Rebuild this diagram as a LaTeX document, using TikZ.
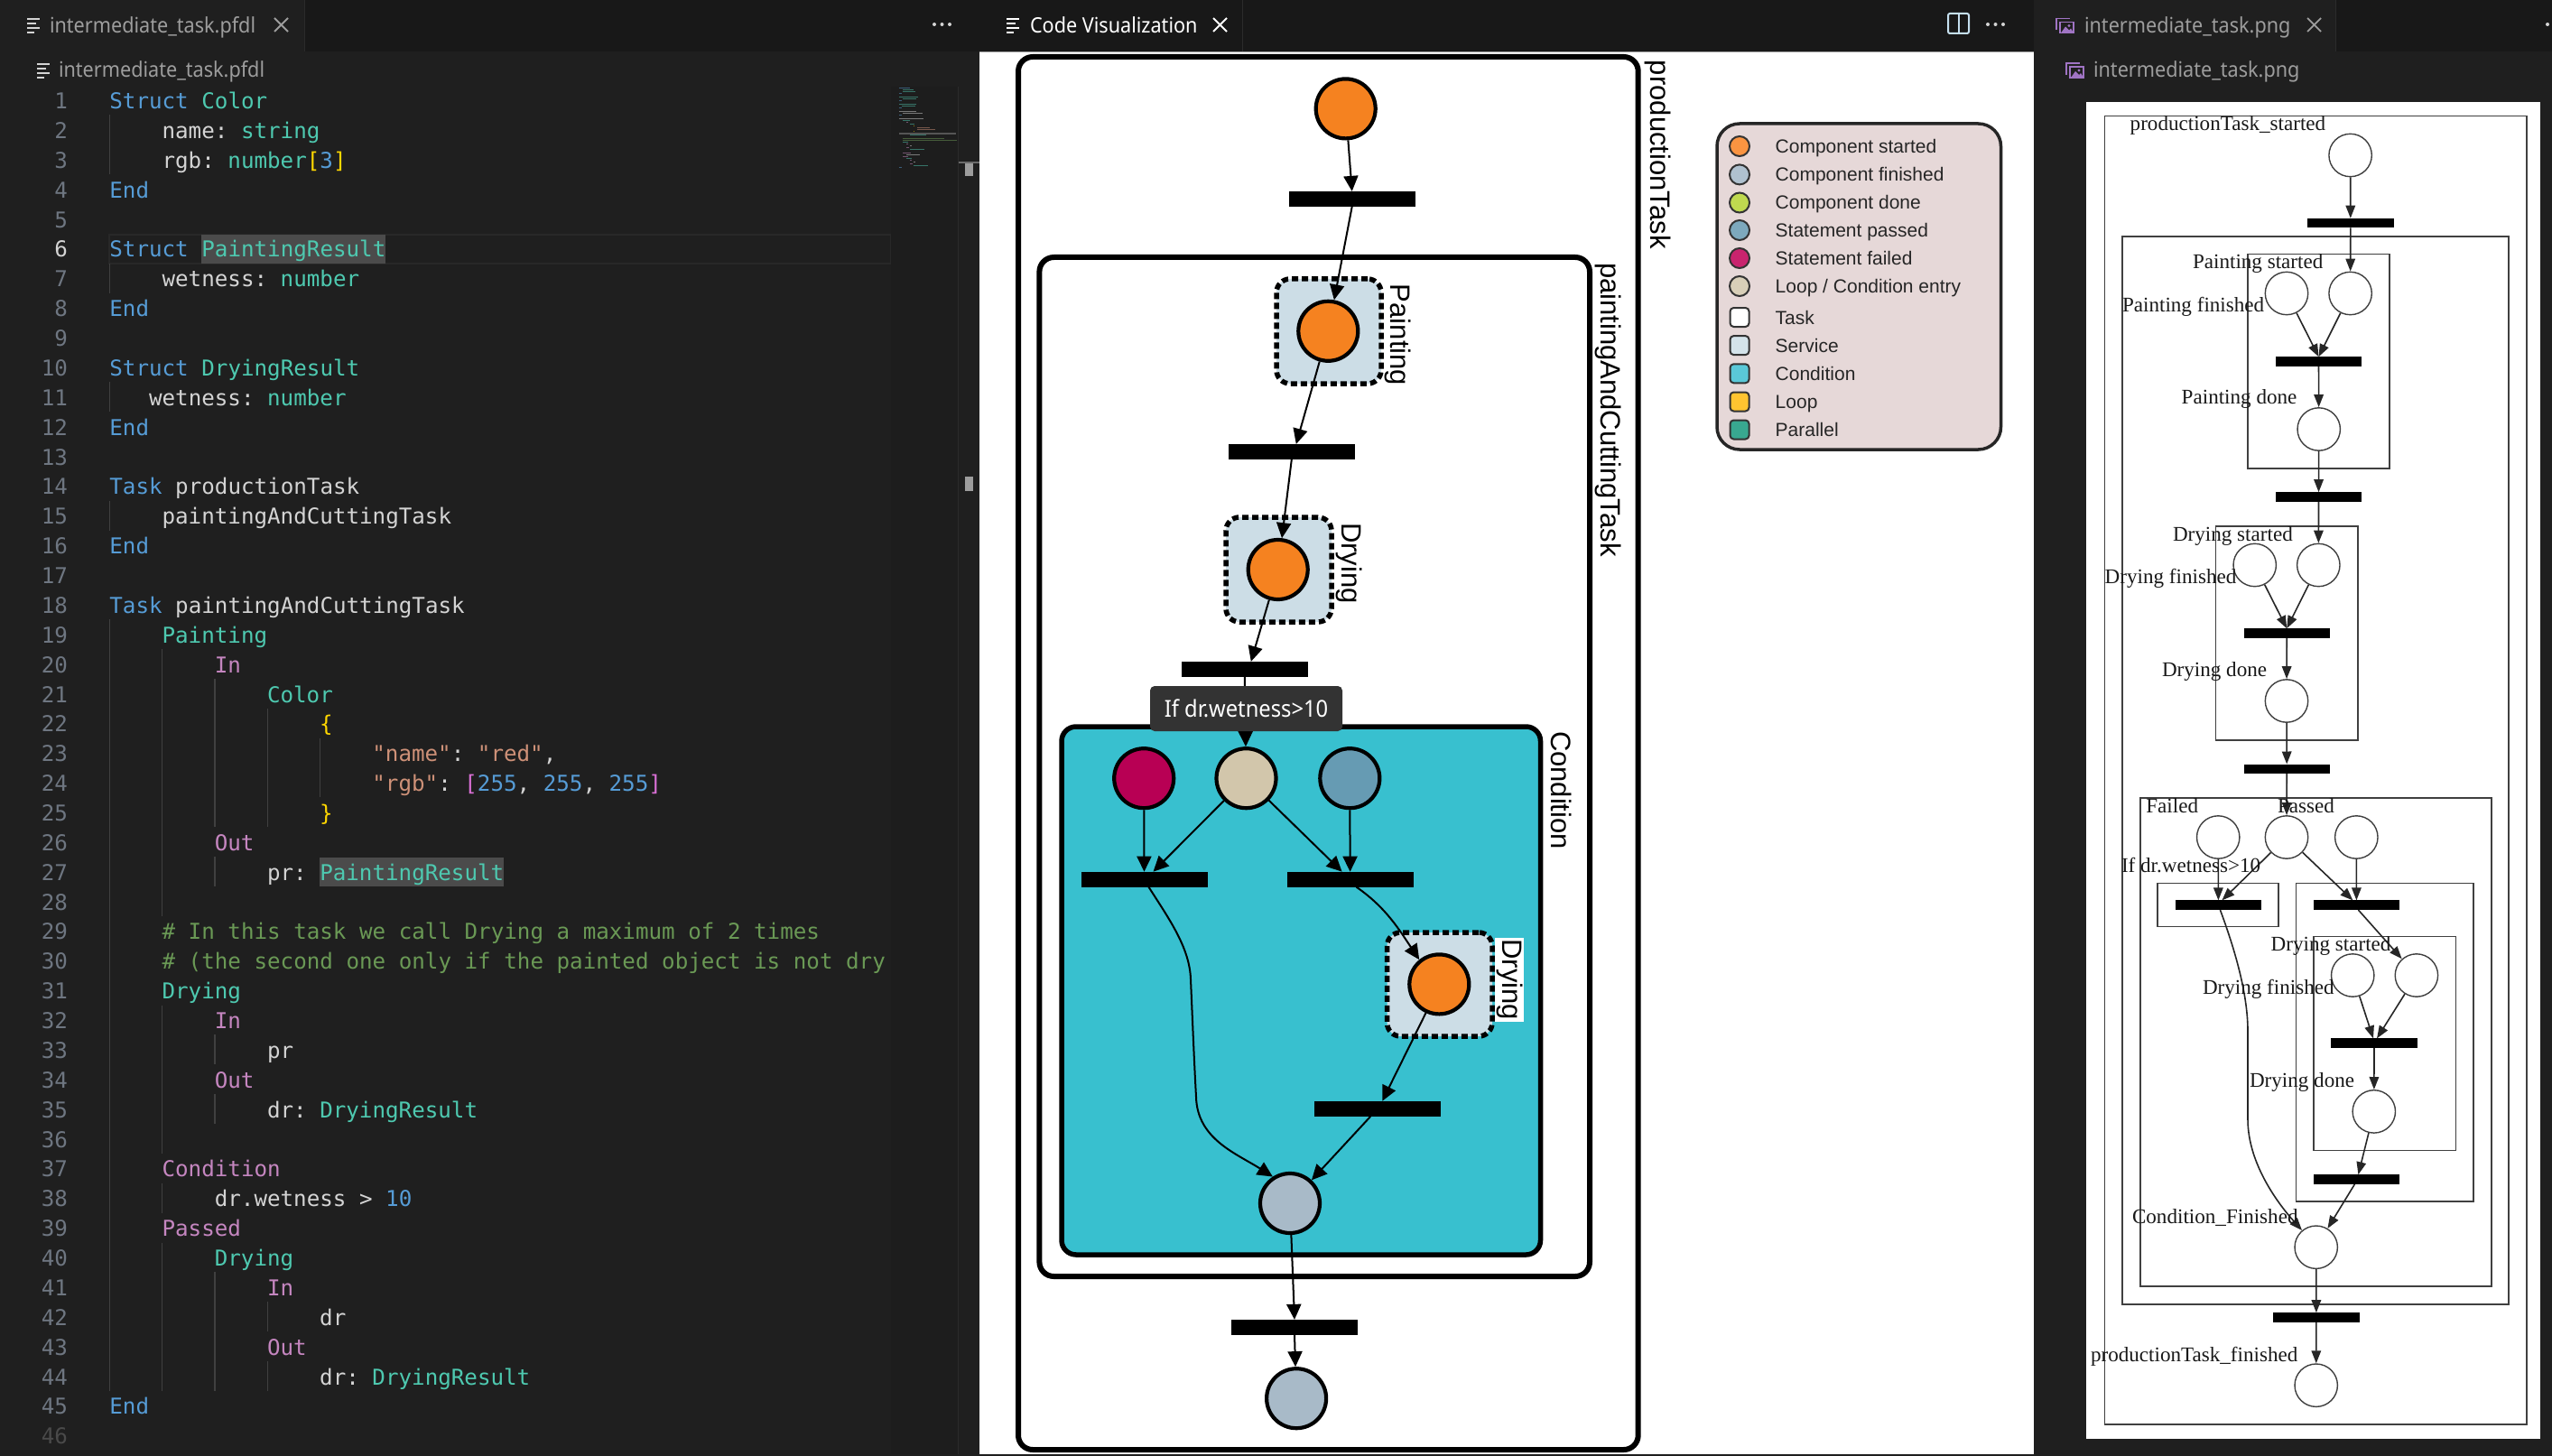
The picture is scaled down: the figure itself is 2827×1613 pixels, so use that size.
\documentclass[tikz,border=0pt]{standalone}
\usepackage{fontspec}
\setmainfont{Liberation Sans}
\setmonofont{DejaVu Sans Mono}
\newfontfamily\uifont[FakeStretch=0.92]{Noto Sans}
\newfontfamily\gvfont{Liberation Serif}
\usetikzlibrary{arrows.meta,calc}
\definecolor{tabbar}{HTML}{181818}
\definecolor{editor}{HTML}{1F1F1F}
\definecolor{uigray}{HTML}{9D9D9D}
\definecolor{codefg}{HTML}{D4D4D4}
\definecolor{lnum}{HTML}{6E7681}
\definecolor{dimnum}{HTML}{4A4A4A}
\definecolor{linehl}{HTML}{282828}
\definecolor{scrollmark}{HTML}{6A6A6A}
\definecolor{minibg}{HTML}{1D1D1D}
\definecolor{minisep}{HTML}{2B2B2B}
\definecolor{minihl}{HTML}{555555}
\definecolor{kwblue}{HTML}{569CD6}
\definecolor{tyteal}{HTML}{4EC9B0}
\definecolor{purp}{HTML}{C586C0}
\definecolor{strc}{HTML}{CE9178}
\definecolor{comc}{HTML}{6A9955}
\definecolor{gold}{HTML}{FFD700}
\definecolor{orch}{HTML}{DA70D6}
\definecolor{wordhl}{HTML}{4B4B4B}
\definecolor{guide}{HTML}{404040}
\definecolor{condfill}{HTML}{38C0CF}
\definecolor{servfill}{HTML}{CCDDE6}
\definecolor{startc}{HTML}{F58220}
\definecolor{finc}{HTML}{A8BAC8}
\definecolor{failc}{HTML}{B80054}
\definecolor{passc}{HTML}{669BB3}
\definecolor{entryc}{HTML}{D2C6AB}
\definecolor{legbg}{HTML}{E6D8D8}
\definecolor{lg1}{HTML}{FA9441}
\definecolor{lg2}{HTML}{AFC1CF}
\definecolor{lg3}{HTML}{BFD94F}
\definecolor{lg4}{HTML}{7DA9BD}
\definecolor{lg5}{HTML}{C9246E}
\definecolor{lg6}{HTML}{D8CFB8}
\definecolor{lg7}{HTML}{FFFFFF}
\definecolor{lg8}{HTML}{D4E3EA}
\definecolor{lg9}{HTML}{5AC8D8}
\definecolor{lg10}{HTML}{FFC430}
\definecolor{lg11}{HTML}{38A890}
\definecolor{imgcol}{HTML}{A074C4}
\definecolor{splitcol}{HTML}{C5DFEF}
\newcommand{\ckw}[1]{\textcolor{kwblue}{#1}}
\newcommand{\cty}[1]{\textcolor{tyteal}{#1}}
\newcommand{\cpu}[1]{\textcolor{purp}{#1}}
\newcommand{\cstr}[1]{\textcolor{strc}{#1}}
\newcommand{\ccm}[1]{\textcolor{comc}{#1}}
\newcommand{\cgd}[1]{\textcolor{gold}{#1}}
\newcommand{\corc}[1]{\textcolor{orch}{#1}}
% code line: line number, column, content
\newcommand{\codeln}[3]{\node[codetext] (code#1) at ({121.4+#2*14.55},{120.6+(#1-1)*32.87}) {#3};}
\newcommand{\numln}[1]{\node[numtext] (num#1) at (75,{120.6+(#1-1)*32.87}) {#1};}
% node from corners
\newcommand{\rectnode}[6]{\node[#6,minimum width={(#4-#2)*1pt},minimum height={(#5-#3)*1pt}] (#1) at ({(#2+#4)/2},{(#3+#5)/2}) {};}
\newcommand{\listicon}[4]{%
  \draw[#4,line width=2pt] (#1,#2) -- ++(#3,0);
  \draw[#4,line width=2pt] (#1,#2+5) -- ++(#3*0.72,0);
  \draw[#4,line width=2pt] (#1,#2+10) -- ++(#3,0);
  \draw[#4,line width=2pt] (#1,#2+15) -- ++(#3*0.55,0);}
\newcommand{\pngicon}[2]{%
  \draw[imgcol,line width=1.8pt] (#1,#2+13) -- (#1,#2) -- (#1+15,#2);
  \draw[imgcol,line width=1.8pt] (#1+4,#2+4) rectangle (#1+19,#2+16);
  \fill[imgcol] (#1+5,#2+16) -- (#1+10,#2+9) -- (#1+14,#2+13) -- (#1+16,#2+11) -- (#1+19,#2+16) -- cycle;
  \fill[imgcol] (#1+14,#2+8) circle[radius=1.6];}
\newcommand{\xicon}[4]{\draw[#4,line width=1.8pt] (#1,#2) -- ++(#3,#3) (#1+#3,#2) -- ++(-#3,#3);}
\newcommand{\threedots}[2]{\fill[#2] (#1,27) circle[radius=2] (#1+8.5,27) circle[radius=2] (#1+17,27) circle[radius=2];}
\tikzset{
  codetext/.style={anchor=base west,inner sep=0pt,outer sep=0pt,text=codefg,font=\fontsize{24.2}{30}\selectfont\ttfamily},
  numtext/.style={anchor=base east,inner sep=0pt,outer sep=0pt,text=lnum,font=\fontsize{24.2}{30}\selectfont\ttfamily},
  uitext/.style={anchor=base west,inner sep=0pt,outer sep=0pt,text=uigray,font=\fontsize{23.5}{28}\selectfont\uifont},
  taskbox/.style={rectangle,draw=black,line width=6pt,rounded corners=16pt,fill=white,inner sep=0pt},
  condbox/.style={rectangle,draw=black,line width=5.5pt,rounded corners=16pt,fill=condfill,inner sep=0pt},
  servbox/.style={rectangle,draw=black,line width=5.5pt,dash pattern=on 7pt off 4pt,rounded corners=15pt,fill=servfill,inner sep=0pt},
  vplace/.style={circle,draw=black,line width=4.2pt,minimum size=66pt,inner sep=0pt},
  vbar/.style={rectangle,fill=black,minimum width=140pt,minimum height=17pt,inner sep=0pt,outer sep=0pt},
  vedge/.style={-{Triangle[length=17pt,width=16pt]},line width=2pt,black},
  vlabel/.style={rotate=-90,anchor=base west,inner sep=0pt,outer sep=0pt,text=black,font=\fontsize{31}{34}\selectfont},
  legtext/.style={anchor=base west,inner sep=0pt,outer sep=0pt,text=black!85,font=\fontsize{21}{25}\selectfont},
  rbox/.style={rectangle,draw=black!75,line width=1.6pt,inner sep=0pt},
  rplace/.style={circle,draw=black!75,line width=1.4pt,minimum size=47.4pt,inner sep=0pt},
  rbar/.style={rectangle,fill=black,minimum width=95.4pt,minimum height=10.6pt,inner sep=0pt,outer sep=0pt},
  redge/.style={-{Triangle[length=14pt,width=10.5pt]},line width=1.6pt,black!85},
  rlabel/.style={anchor=base west,inner sep=0pt,outer sep=0pt,text=black!90,font=\fontsize{23.1}{26}\selectfont\gvfont},
}
\begin{document}
\begin{tikzpicture}[x=1pt,y=-1pt]
\useasboundingbox (0,0) rectangle (2827,1613);
% ---------- backgrounds
\fill[editor] (0,0) rectangle (2827,1613);
\fill[tabbar] (0,0) rectangle (2827,57.5);
\fill[editor] (0,0) rectangle (337,57.5);
\fill[tabbar] (1085,0) rectangle (2253,57.5);
\fill[tabbar] (1085,0) rectangle (1376.5,57.5);
\fill[editor] (2253,0) rectangle (2587,57.5);
\fill[white] (1085,58) rectangle (2253,1611);
\fill[white] (2311,113) rectangle (2814,1594);
\draw[black!40,line width=1pt] (1085,57.5) -- (2253,57.5);
\draw[minisep,line width=1pt] (337,0) -- (337,57.5) (1376.5,0) -- (1376.5,57.5) (2587,0) -- (2587,57.5);
% ---------- left editor chrome
\listicon{30}{21.5}{14}{codefg}
\node[uitext] (tabone) at (55,36.5) {intermediate\_task.pfdl};
\xicon{304}{20}{15}{uigray}
\threedots{1035}{codefg}
\listicon{41}{71}{14}{codefg}
\node[uitext] (crumbone) at (65,85.5) {intermediate\_task.pfdl};
% line highlight + word highlights
\draw[linehl,line width=1.5pt] (121,260) rectangle (987,292);
\fill[wordhl] (223,260) rectangle (426.5,292);
\fill[wordhl] (354,950) rectangle (558,981.5);
% minimap + scrollbar
\fill[minibg] (987,96) rectangle (1061,1611);
\draw[minisep,line width=1pt] (1061,96) -- (1061,1611);
\foreach \l/\c/\n/\mcol in {1/0/12/kwblue,2/4/12/tyteal,3/4/14/tyteal,4/0/3/kwblue,6/0/21/tyteal,7/4/15/tyteal,8/0/3/kwblue,10/0/19/tyteal,11/3/15/tyteal,12/0/3/kwblue,14/0/19/codefg,15/4/22/codefg,16/0/3/kwblue,18/0/27/codefg,19/4/8/tyteal,20/8/2/purp,21/12/5/tyteal,22/16/1/gold,23/20/14/strc,24/20/20/strc,25/16/1/gold,26/8/3/purp,27/12/18/tyteal,29/4/46/comc,30/4/60/comc,31/4/6/tyteal,32/8/2/purp,33/12/2/codefg,34/8/3/purp,35/12/16/tyteal,37/4/9/purp,38/8/15/codefg,39/4/6/purp,40/8/6/tyteal,41/12/2/purp,42/16/2/codefg,43/12/3/purp,44/16/16/tyteal,45/0/3/kwblue}{
  \fill[\mcol!50!editor] ({996+\c*1},{97+(\l-1)*2}) rectangle ++({\n*1},1.2);
}
\fill[minihl] (996,147.5) rectangle (1059,149.2);
\fill[scrollmark] (1062,179) rectangle (1085,181);
\fill[uigray] (1069,181) rectangle (1078,195);
\fill[uigray] (1069,528) rectangle (1078,544);
% indent guides
\foreach \cx/\a/\b in {121.4/2/3,121.4/7/7,121.4/11/11,121.4/15/15,121.4/19/44,
  179.6/20/28,179.6/32/36,179.6/38/38,179.6/40/44,
  237.8/21/25,237.8/27/27,237.8/33/33,237.8/35/35,237.8/41/44,
  296.7/22/25,296.7/42/42,296.7/44/44,
  354.3/23/24}{
  \draw[guide,line width=1.4pt] (\cx,{111+(\a-1)*32.87-16.4}) -- (\cx,{111+(\b-1)*32.87+16.4});
}
% line numbers
\foreach \i in {1,2,3,4,5,7,8,9,10,11,12,13,14,15,16,17,18,19,20,21,22,23,24,25,26,27,28,29,30,31,32,33,34,35,36,37,38,39,40,41,42,43,44,45}{\numln{\i}}
\node[numtext,text=codefg] (num6) at (75,{120.6+5*32.87}) {6};
\node[numtext,text=dimnum] (num46) at (75,{120.6+45*32.87}) {46};
% code
\codeln{1}{0}{\ckw{Struct} \cty{Color}}
\codeln{2}{4}{name: \cty{string}}
\codeln{3}{4}{rgb: \cty{number}\cgd{[}\ckw{3}\cgd{]}}
\codeln{4}{0}{\ckw{End}}
\codeln{6}{0}{\ckw{Struct} \cty{PaintingResult}}
\codeln{7}{4}{wetness: \cty{number}}
\codeln{8}{0}{\ckw{End}}
\codeln{10}{0}{\ckw{Struct} \cty{DryingResult}}
\codeln{11}{3}{wetness: \cty{number}}
\codeln{12}{0}{\ckw{End}}
\codeln{14}{0}{\ckw{Task} productionTask}
\codeln{15}{4}{paintingAndCuttingTask}
\codeln{16}{0}{\ckw{End}}
\codeln{18}{0}{\ckw{Task} paintingAndCuttingTask}
\codeln{19}{4}{\cty{Painting}}
\codeln{20}{8}{\cpu{In}}
\codeln{21}{12}{\cty{Color}}
\codeln{22}{16}{\cgd{\{}}
\codeln{23}{20}{\cstr{"name"}: \cstr{"red"},}
\codeln{24}{20}{\cstr{"rgb"}: \corc{[}\ckw{255}, \ckw{255}, \ckw{255}\corc{]}}
\codeln{25}{16}{\cgd{\}}}
\codeln{26}{8}{\cpu{Out}}
\codeln{27}{12}{pr: \cty{PaintingResult}}
\codeln{29}{4}{\ccm{\# In this task we call Drying a maximum of 2 times}}
\codeln{30}{4}{\ccm{\# (the second one only if the painted object is not dry}}
\codeln{31}{4}{\cty{Drying}}
\codeln{32}{8}{\cpu{In}}
\codeln{33}{12}{pr}
\codeln{34}{8}{\cpu{Out}}
\codeln{35}{12}{dr: \cty{DryingResult}}
\codeln{37}{4}{\cpu{Condition}}
\codeln{38}{8}{dr.wetness > \ckw{10}}
\codeln{39}{4}{\cpu{Passed}}
\codeln{40}{8}{\cty{Drying}}
\codeln{41}{12}{\cpu{In}}
\codeln{42}{16}{dr}
\codeln{43}{12}{\cpu{Out}}
\codeln{44}{16}{dr: \cty{DryingResult}}
\codeln{45}{0}{\ckw{End}}
% ---------- middle chrome
\listicon{1115}{21.5}{14}{white}
\node[uitext,text=white] (tabtwo) at (1141,36.5) {Code Visualization};
\xicon{1344}{20}{15}{white}
\draw[splitcol,line width=2pt,rounded corners=2pt] (2158,15) rectangle (2181,37);
\draw[splitcol,line width=2pt] (2169.5,15) -- (2169.5,37);
\threedots{2202}{codefg}
% ---------- middle diagram
\rectnode{prodbox}{1128}{63}{1814.7}{1606}{taskbox}
\rectnode{pacbox}{1151.4}{285}{1761}{1414}{taskbox}
\rectnode{condb}{1176}{805}{1706.5}{1390}{condbox}
\rectnode{paintb}{1414}{309}{1530}{425}{servbox}
\rectnode{dryb}{1358}{573}{1475}{689}{servbox}
\rectnode{dryc}{1536.5}{1033}{1653}{1148}{servbox}
\node[vlabel] (lprod) at (1828,67) {productionTask};
\node[vlabel] (lpac) at (1773,291) {paintingAndCuttingTask};
\node[vlabel] (lcond) at (1718,810) {Condition};
\node[vlabel] (lpaint) at (1540,315) {Painting};
\node[vlabel] (ldry) at (1486,579) {Drying};
\node[vlabel,fill=white,inner sep=1.5pt] (ldryc) at (1664,1039) {Drying};
\node[vplace,fill=startc] (c1) at (1490.7,120.4) {};
\node[vbar] (b1) at (1497.7,220.4) {};
\node[vplace,fill=startc] (c2) at (1471.3,366.8) {};
\node[vbar] (b2) at (1430.8,500.5) {};
\node[vplace,fill=startc] (c3) at (1415.7,631) {};
\node[vbar] (b3) at (1378.8,741.4) {};
\node[vplace,fill=failc] (cfail) at (1267.2,862.2) {};
\node[vplace,fill=entryc] (centry) at (1380.5,862.2) {};
\node[vplace,fill=passc] (cpass) at (1495.3,862.2) {};
\node[vbar] (b4) at (1267.5,974.2) {};
\node[vbar] (b5) at (1495.6,974.2) {};
\node[vplace,fill=startc] (c4) at (1594.3,1090.4) {};
\node[vbar] (b6) at (1526.2,1228.3) {};
\node[vplace,fill=finc] (cdone) at (1429,1333) {};
\node[vbar] (b7) at (1434,1470.4) {};
\node[vplace,fill=finc] (cend) at (1436.1,1549.2) {};
\draw[vedge] (c1) -- (b1.north);
\draw[vedge] (b1.south) -- (c2);
\draw[vedge] (c2) -- ([xshift=5pt]b2.north);
\draw[vedge] (b2.south) -- (c3);
\draw[vedge] (c3) -- ([xshift=7pt]b3.north);
\draw[vedge] (b3.south) -- (centry);
\draw[vedge] (cfail) -- (b4.north);
\draw[vedge] (centry) -- ([xshift=10pt]b4.north);
\draw[vedge] (centry) -- ([xshift=-9pt]b5.north);
\draw[vedge] (cpass) -- (b5.north);
\draw[vedge] ([xshift=5pt]b4.south) .. controls (1295,1018) and (1318,1050) .. (1319,1085) .. controls (1321,1130) and (1323,1180) .. (1325,1215) .. controls (1326,1262) and (1370,1278) .. (cdone.123);
\draw[vedge] ([xshift=7pt]b5.south) .. controls (1535,1005) and (1550,1030) .. (c4.129);
\draw[vedge] (c4.-115) -- ([xshift=5pt]b6.north);
\draw[vedge] ([xshift=-8pt]b6.south) -- (cdone.47);
\draw[vedge] (cdone) -- (b7.north);
\draw[vedge] (b7.south) -- (cend);
\node[rectangle,fill=black!80,rounded corners=5pt,inner sep=0pt,minimum width=213pt,minimum height=50pt,text=white,font=\fontsize{25.8}{28}\selectfont\uifont] (tip) at (1380.5,785) {If dr.wetness>10};
% ---------- legend
\rectnode{legend}{1902}{137}{2216.5}{498}{rectangle,draw=black!85,line width=3.5pt,rounded corners=25pt,fill=legbg,inner sep=0pt}
\foreach \i/\yy/\txt in {1/162/Component started,2/193.4/Component finished,3/224.5/Component done,4/255/Statement passed,5/286/Statement failed,6/317/{Loop / Condition entry}}{
  \node[circle,draw=black!80,line width=2pt,minimum size=22pt,inner sep=0pt,fill=lg\i] (lc\i) at (1927,\yy) {};
  \node[legtext] (lt\i) at (1966.7,\yy+7.5) {\txt};
}
\foreach \i/\yy/\txt in {7/351.5/Task,8/382.6/Service,9/413.8/Condition,10/445/Loop,11/476/Parallel}{
  \node[rectangle,draw=black!80,line width=2pt,rounded corners=4pt,minimum size=21pt,inner sep=0pt,fill=lg\i] (lc\i) at (1927,\yy) {};
  \node[legtext] (lt\i) at (1966.7,\yy+7.5) {\txt};
}
% ---------- right chrome
\pngicon{2278}{20.5}
\node[uitext] (tabthree) at (2309,36.5) {intermediate\_task.png};
\xicon{2556}{20}{15}{uigray}
\threedots{2822}{codefg}
\pngicon{2289}{70}
\node[uitext] (crumbthree) at (2319,85.5) {intermediate\_task.png};
% ---------- right image
\rectnode{rout}{2331.3}{128.6}{2798.7}{1577.7}{rbox}
\rectnode{rin}{2351.2}{262.2}{2779.2}{1445}{rbox}
\rectnode{rpaint}{2490}{281.6}{2647}{518.9}{rbox}
\rectnode{rdry}{2454.6}{582.7}{2611.7}{820.2}{rbox}
\rectnode{rcond}{2371}{884}{2759.7}{1424.8}{rbox}
\rectnode{rfail}{2390.2}{978.4}{2524}{1026.6}{rbox}
\rectnode{rpass}{2543.6}{978.4}{2739.8}{1331}{rbox}
\rectnode{rdry2}{2563}{1037.5}{2720.3}{1274.4}{rbox}
\node[rplace] (e1) at (2603.6,172) {};
\node[rbar] (t1) at (2603.8,247) {};
\node[rplace] (e2) at (2533,325) {};
\node[rplace] (e3) at (2603.6,325) {};
\node[rbar] (t2) at (2568.5,400.5) {};
\node[rplace] (e4) at (2568.7,475.5) {};
\node[rbar] (t3) at (2568.5,550.5) {};
\node[rplace] (e5) at (2497.7,626) {};
\node[rplace] (e6) at (2568.3,626) {};
\node[rbar] (t4) at (2533.2,701.5) {};
\node[rplace] (e7) at (2533,776.5) {};
\node[rbar] (t5) at (2533.2,851.8) {};
\node[rplace] (e8) at (2457.2,927.5) {};
\node[rplace] (e9) at (2533,927.5) {};
\node[rplace] (e10) at (2610.3,927.5) {};
\node[rbar] (t6) at (2457.4,1002.7) {};
\node[rbar] (t7) at (2610.4,1002.7) {};
\node[rplace] (e11) at (2606.2,1080.5) {};
\node[rplace] (e12) at (2676.9,1080.5) {};
\node[rbar] (t8) at (2630,1155.7) {};
\node[rplace] (e13) at (2629.8,1231.4) {};
\node[rbar] (t9) at (2610.4,1306.6) {};
\node[rplace] (e14) at (2565.7,1381.7) {};
\node[rbar] (t10) at (2565.9,1459.5) {};
\node[rplace] (e15) at (2565.7,1534.7) {};
\draw[redge] (e1) -- (t1.north);
\draw[redge] (t1.south) -- (e3);
\draw[redge] (e2) -- (t2.north);
\draw[redge] (e3) -- (t2.north);
\draw[redge] (t2.south) -- (e4);
\draw[redge] (e4) -- (t3.north);
\draw[redge] (t3.south) -- (e6);
\draw[redge] (e5) -- (t4.north);
\draw[redge] (e6) -- (t4.north);
\draw[redge] (t4.south) -- (e7);
\draw[redge] (e7) -- (t5.north);
\draw[redge] (t5.south) -- (e9);
\draw[redge] (e8) -- (t6.north);
\draw[redge] (e9) -- ([xshift=4pt]t6.north);
\draw[redge] (e9) -- ([xshift=-4pt]t7.north);
\draw[redge] (e10) -- (t7.north);
\draw[redge] ([xshift=2pt]t7.south) -- (e12);
\draw[redge] (e11) -- ([xshift=-1pt]t8.north);
\draw[redge] (e12) -- ([xshift=3pt]t8.north);
\draw[redge] (t8.south) -- (e13);
\draw[redge] (e13) -- ([xshift=2pt]t9.north);
\draw[redge] ([xshift=-2pt]t9.south) -- (e14);
\draw[redge] ([xshift=2pt]t6.south) .. controls (2475,1050) and (2490,1100) .. (2490,1142) -- (2490,1240) .. controls (2490,1290) and (2525,1335) .. (e14.130);
\draw[redge] (e14) -- (t10.north);
\draw[redge] (t10.south) -- (e15);
\node[rlabel] (r1) at (2359.7,145) {productionTask\_started};
\node[rlabel] (r2) at (2429,298) {Painting started};
\node[rlabel] (r3) at (2351,345.5) {Painting finished};
\node[rlabel] (r4) at (2416.7,447.5) {Painting done};
\node[rlabel] (r5) at (2407,599.5) {Drying started};
\node[rlabel] (r6) at (2331.7,646.5) {Drying finished};
\node[rlabel] (r7) at (2395,749.5) {Drying done};
\node[rlabel] (r8) at (2377.3,900) {Failed};
\node[rlabel] (r9) at (2523,900) {Passed};
\node[rlabel] (r10) at (2350,966) {If dr.wetness>10};
\node[rlabel] (r11) at (2515.7,1053) {Drying started};
\node[rlabel] (r12) at (2440,1101) {Drying finished};
\node[rlabel] (r13) at (2492,1204.5) {Drying done};
\node[rlabel] (r14) at (2362,1355) {Condition\_Finished};
\node[rlabel] (r15) at (2316,1508.5) {productionTask\_finished};
\end{tikzpicture}
\end{document}
